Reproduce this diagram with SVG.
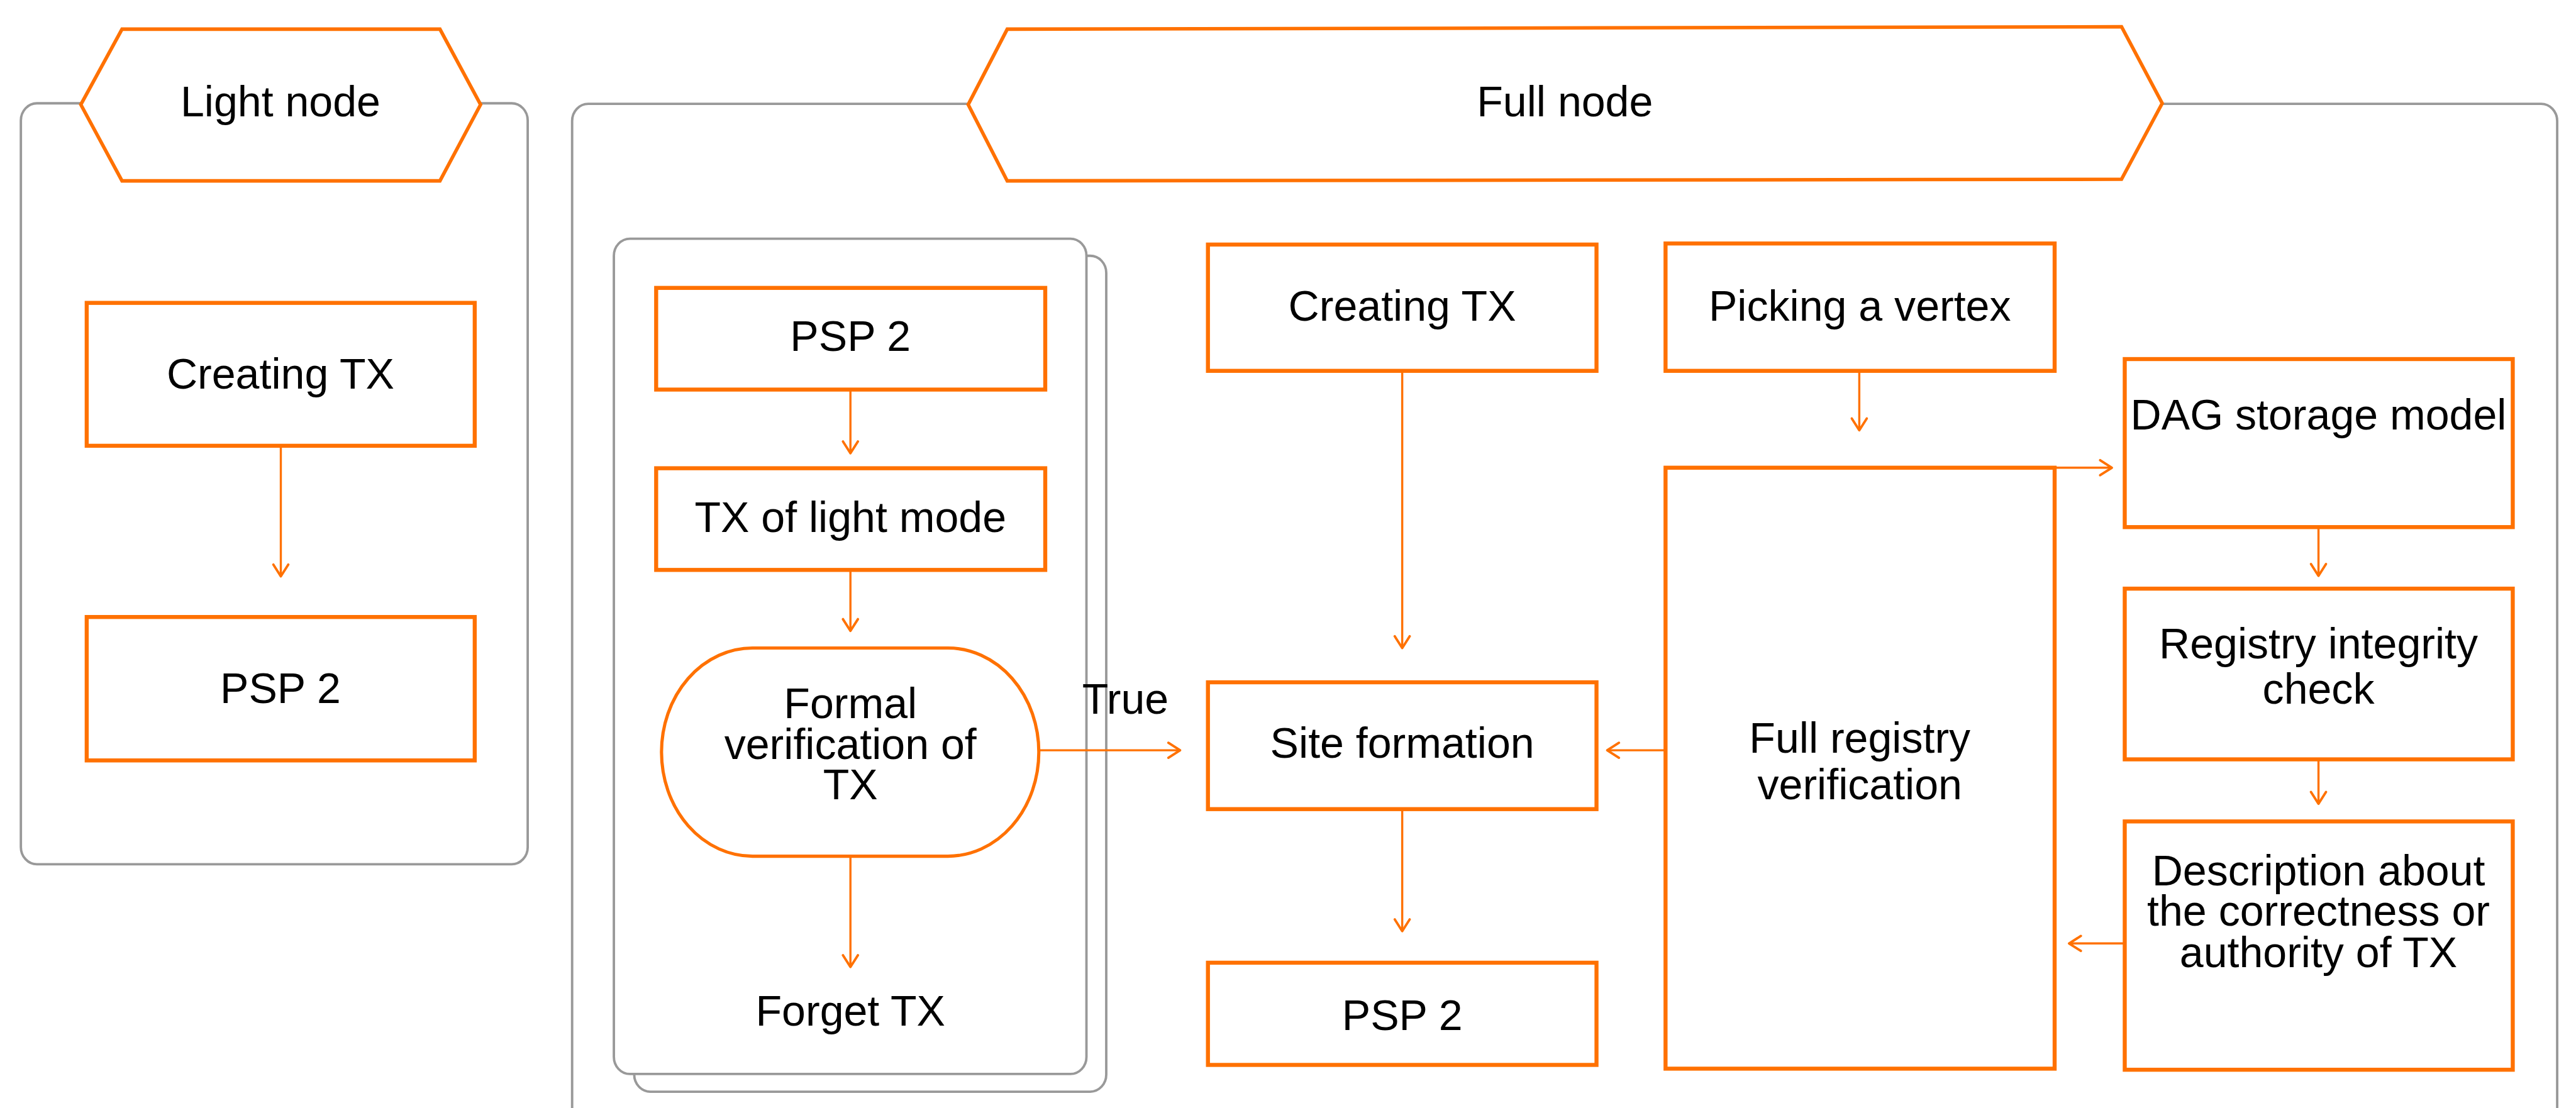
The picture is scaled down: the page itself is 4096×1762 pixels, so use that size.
<svg xmlns="http://www.w3.org/2000/svg" width="4096" height="1762" viewBox="0 0 4096 1762">
<style>
.box{fill:#fff;stroke:#FF7100;stroke-width:7.5}
.hex{fill:#fff;stroke:#FF7100;stroke-width:6.5;stroke-linejoin:miter}
.cont{fill:#fff;stroke:#999;stroke-width:4.5}
.con{fill:none;stroke:#FF7100;stroke-width:4}
text{font-family:"Liberation Sans",Arial,Helvetica,sans-serif;font-size:80px;fill:#000;text-anchor:middle}
</style>
<defs>
<marker id="arr" markerUnits="userSpaceOnUse" markerWidth="40" markerHeight="40" refX="26" refY="18" orient="auto" overflow="visible">
<path d="M4,4 L26,18 L4,32" fill="none" stroke="#FF7100" stroke-width="4.5" stroke-linecap="round" stroke-linejoin="round"/>
</marker>
</defs>
<rect width="4096" height="1762" fill="#fff"/>
<g transform="scale(0.851)">
<g id="light-node-container">
<rect class="cont" x="39" y="193" width="947" height="1422" rx="30" ry="32"/>
</g>
<g id="full-node-container">
<rect class="cont" x="1069" y="194" width="3709" height="2000" rx="30" ry="32"/>
</g>
<g id="light-node-header">
<polygon class="hex" points="151,195.5 228,54.5 822,54.5 898,195.5 822,338 228,338"/>
<text x="524" y="217">Light node</text>
</g>
<g id="full-node-header">
<polygon class="hex" points="1809,195.5 1882,54.5 3964,50 4040,193 3964,335 1882,338"/>
<text x="2924" y="217">Full node</text>
</g>
<g id="light-creating-tx">
<rect class="box" x="162" y="566" width="725" height="267"/>
<text x="524" y="726">Creating TX</text>
</g>
<g id="light-psp2">
<rect class="box" x="162" y="1153" width="725" height="268"/>
<text x="524" y="1314">PSP 2</text>
</g>
<g id="light-mode-container">
<rect class="cont" x="1185" y="478" width="882" height="1562" rx="30" ry="32"/>
<rect class="cont" x="1147" y="446" width="883" height="1561" rx="30" ry="32"/>
</g>
<g id="inner-psp2">
<rect class="box" x="1226" y="538" width="727" height="190"/>
<text x="1589" y="656">PSP 2</text>
</g>
<g id="tx-light-mode">
<rect class="box" x="1226" y="875" width="727" height="190"/>
<text x="1589" y="994">TX of light mode</text>
</g>
<g id="formal-verification">
<rect x="1236" y="1211" width="705" height="389" rx="170" ry="194.5" fill="#fff" stroke="#FF7100" stroke-width="6"/>
<text x="1589" y="1342">Formal</text>
<text x="1589" y="1418">verification of</text>
<text x="1589" y="1494">TX</text>
</g>
<g id="forget-tx">
<text x="1589" y="1917">Forget TX</text>
</g>
<g id="full-creating-tx">
<rect class="box" x="2257" y="457" width="726" height="236"/>
<text x="2620" y="599">Creating TX</text>
</g>
<g id="site-formation">
<rect class="box" x="2257" y="1275" width="726" height="237"/>
<text x="2620" y="1416">Site formation</text>
</g>
<g id="full-psp2">
<rect class="box" x="2257" y="1799" width="726" height="191"/>
<text x="2620" y="1925">PSP 2</text>
</g>
<g id="picking-vertex">
<rect class="box" x="3112" y="455" width="727" height="238"/>
<text x="3475" y="599">Picking a vertex</text>
</g>
<g id="full-registry-verification">
<rect class="box" x="3112" y="874" width="727" height="1123"/>
<text x="3475" y="1406">Full registry</text>
<text x="3475" y="1494">verification</text>
</g>
<g id="dag-storage-model">
<rect class="box" x="3970" y="671" width="725" height="314"/>
<text x="4332" y="802">DAG storage model</text>
</g>
<g id="registry-integrity-check">
<rect class="box" x="3970" y="1100" width="725" height="319"/>
<text x="4332" y="1230">Registry integrity</text>
<text x="4332" y="1315">check</text>
</g>
<g id="description-correctness">
<rect class="box" x="3970" y="1535" width="725" height="464"/>
<text x="4332" y="1654">Description about</text>
<text x="4332" y="1730">the correctness or</text>
<text x="4332" y="1807">authority of TX</text>
</g>
<g id="connectors">
<line class="con" x1="524.7" y1="833" x2="524.7" y2="1077" marker-end="url(#arr)"/>
<line class="con" x1="1589" y1="728" x2="1589" y2="847" marker-end="url(#arr)"/>
<line class="con" x1="1589" y1="1065" x2="1589" y2="1179" marker-end="url(#arr)"/>
<line class="con" x1="1589" y1="1600" x2="1589" y2="1807" marker-end="url(#arr)"/>
<line class="con" x1="1941" y1="1402" x2="2205" y2="1402" marker-end="url(#arr)"/>
<text x="2022" y="1334" style="text-anchor:start">True</text>
<line class="con" x1="2620" y1="693" x2="2620" y2="1211" marker-end="url(#arr)"/>
<line class="con" x1="2620" y1="1512" x2="2620" y2="1740" marker-end="url(#arr)"/>
<line class="con" x1="3474" y1="693" x2="3474" y2="804" marker-end="url(#arr)"/>
<line class="con" x1="3839" y1="874" x2="3946" y2="874" marker-end="url(#arr)"/>
<line class="con" x1="3112" y1="1402" x2="3003" y2="1402" marker-end="url(#arr)"/>
<line class="con" x1="4332" y1="985" x2="4332" y2="1076" marker-end="url(#arr)"/>
<line class="con" x1="4332" y1="1419" x2="4332" y2="1502" marker-end="url(#arr)"/>
<line class="con" x1="3970" y1="1763" x2="3866" y2="1763" marker-end="url(#arr)"/>
</g>
</g>
</svg>
